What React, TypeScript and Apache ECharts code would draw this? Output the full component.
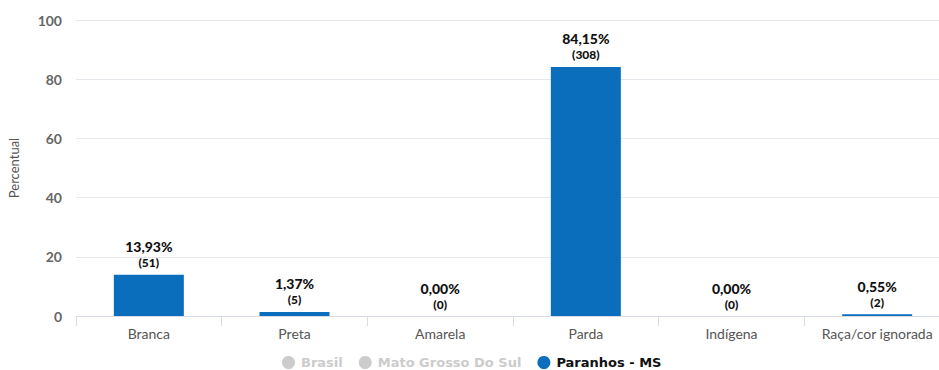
import React, { useEffect, useRef } from "react";
import * as echarts from "echarts";

const categories = ["Branca", "Preta", "Amarela", "Parda", "Indígena", "Raça/cor ignorada"];
const percentValues = [13.93, 1.37, 0.0, 84.15, 0.0, 0.55];
const countValues = [51, 5, 0, 308, 0, 2];
const yTicks = [0, 20, 40, 60, 80, 100];
const seriesNames = ["Brasil", "Mato Grosso Do Sul", "Paranhos - MS"];

const FONT = "Lato, 'Open Sans', sans-serif";

export default function App() {
  const ref = useRef<HTMLDivElement>(null);
  useEffect(() => {
    if (!ref.current) return;
    const chart = echarts.init(ref.current, undefined, { renderer: "svg" });
    chart.setOption({
      animation: false,
      textStyle: { fontFamily: FONT },
      grid: {
        left: 76,
        top: 20,
        width: 874,
        height: 296,
        containLabel: false,
        outerBoundsMode: "none",
      },
      legend: {
        data: seriesNames,
        selected: { [seriesNames[0]]: false, [seriesNames[1]]: false, [seriesNames[2]]: true },
        left: 282,
        top: 356,
        padding: 0,
        icon: "circle",
        itemWidth: 13,
        itemHeight: 13,
        itemGap: 16,
        inactiveColor: "#cccccc",
        textStyle: {
          fontFamily: "'DejaVu Sans', sans-serif",
          fontWeight: "bold",
          fontSize: 13,
          lineHeight: 13,
          color: "#111",
          padding: [0, 0, 0, 1],
        },
      },
      xAxis: {
        type: "category",
        data: categories,
        axisLine: { lineStyle: { color: "#d8dce6" } },
        axisTick: { show: true, alignWithLabel: false, length: 10, lineStyle: { color: "#d8dce6" } },
        axisLabel: { color: "#555", fontSize: 14, margin: 10, interval: 0, fontFamily: FONT },
      },
      yAxis: {
        type: "value",
        min: 0,
        max: 100,
        interval: 20,
        name: "Percentual",
        nameLocation: "middle",
        nameGap: 56,
        nameTextStyle: { color: "#555", fontSize: 13, fontFamily: FONT },
        axisLine: { show: false },
        axisTick: { show: false },
        splitLine: { lineStyle: { color: "#e6e8ee" } },
        axisLabel: {
          color: "#666",
          fontWeight: "bold",
          fontSize: 14,
          margin: 14,
          fontFamily: FONT,
          formatter: (v: number) => (yTicks.includes(v) ? String(v) : ""),
        },
      },
      series: [
        { name: seriesNames[0], type: "bar", data: [], itemStyle: { color: "#cccccc" } },
        { name: seriesNames[1], type: "bar", data: [], itemStyle: { color: "#cccccc" } },
        {
          name: seriesNames[2],
          type: "bar",
          data: percentValues,
          barWidth: 70,
          itemStyle: { color: "#0a6ebd" },
          label: {
            show: true,
            position: "top",
            distance: 5,
            formatter: (p: any) =>
              `{a|${p.value.toFixed(2).replace(".", ",")}%}\n{b|(${countValues[p.dataIndex]})}`,
            rich: {
              a: { fontSize: 14, fontWeight: 900, color: "#111", fontFamily: FONT, lineHeight: 18, align: "center" },
              b: { fontSize: 12, fontWeight: 900, color: "#111", fontFamily: FONT, lineHeight: 14, align: "center" },
            },
            align: "center",
          },
        },
      ],
    });
    return () => chart.dispose();
  }, []);
  return (
    <div
      ref={ref}
      style={{ position: "fixed", left: 0, top: 0, width: 939, height: 370, background: "#fff" }}
    />
  );
}
